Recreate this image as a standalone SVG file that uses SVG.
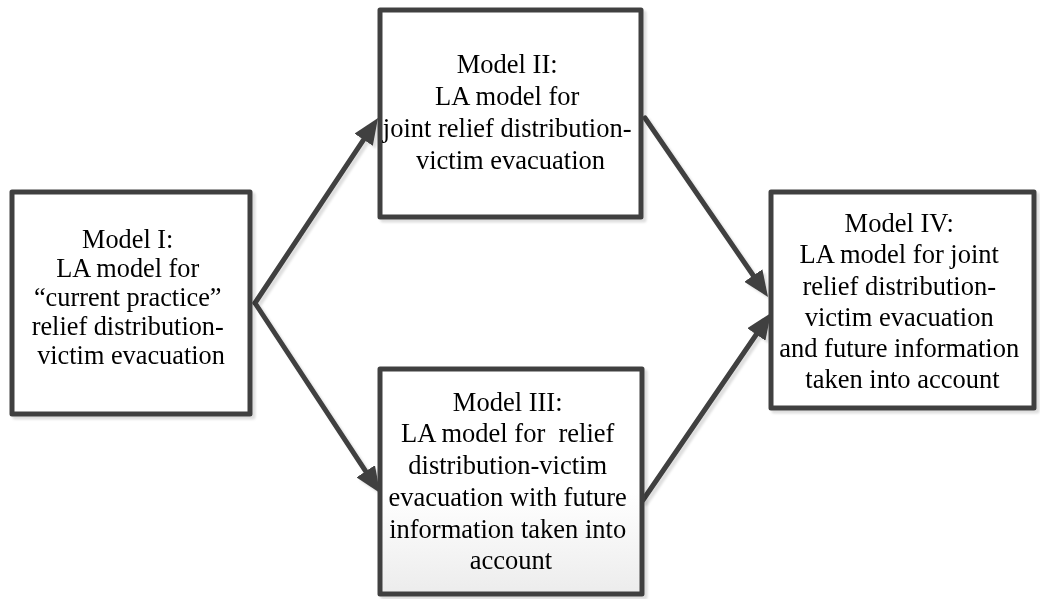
<svg xmlns="http://www.w3.org/2000/svg" width="1040" height="599" viewBox="0 0 1040 599">
<defs>
  <style>
    .box{fill:#ffffff;stroke:#404040;stroke-width:5;stroke-linejoin:round}
    .lbl{font-family:"Liberation Serif","Times New Roman",serif;fill:#000;text-anchor:middle}
    .conn line{stroke:#404040;stroke-width:5;stroke-linecap:round}
  </style>
  <linearGradient id="g3" x1="0" y1="0" x2="0" y2="1">
    <stop offset="0.55" stop-color="#ffffff"/>
    <stop offset="1" stop-color="#ececec"/>
  </linearGradient>
  <filter id="sh" x="-10%" y="-10%" width="130%" height="130%">
    <feDropShadow dx="3" dy="3" stdDeviation="0.8" flood-color="#000" flood-opacity="0.13"/>
  </filter>
  <marker id="ah" viewBox="0 0 26 22" markerWidth="26" markerHeight="22" refX="3" refY="11" orient="auto" markerUnits="userSpaceOnUse">
    <path d="M0,0 L26,11 L0,22 z" fill="#404040"/>
  </marker>
</defs>
<rect width="1040" height="599" fill="#ffffff"/>
<g id="connectors" class="conn" filter="url(#sh)">
  <line x1="255" y1="303" x2="365.3" y2="137.2" marker-end="url(#ah)"/>
  <line x1="255" y1="303" x2="367.4" y2="473.8" marker-end="url(#ah)"/>
  <line x1="645" y1="118" x2="755.0" y2="278.0" marker-end="url(#ah)"/>
  <line x1="643" y1="500" x2="758.0" y2="332.0" marker-end="url(#ah)"/>
</g>
<g id="model1" filter="url(#sh)">
  <rect class="box" x="12" y="192" width="238" height="222"/>
  <text class="lbl" font-size="26.3">
    <tspan x="131" y="248">Model I:</tspan>
    <tspan x="131" y="277">LA model for</tspan>
    <tspan x="131" y="306">“current practice”</tspan>
    <tspan x="131" y="335">relief distribution-</tspan>
    <tspan x="131" y="364">victim evacuation</tspan>
  </text>
</g>
<g id="model2" filter="url(#sh)">
  <rect class="box" x="380" y="10" width="261" height="207"/>
  <text class="lbl" font-size="26.5">
    <tspan x="510.5" y="73">Model II:</tspan>
    <tspan x="510.5" y="105">LA model for</tspan>
    <tspan x="510.5" y="137">joint relief distribution-</tspan>
    <tspan x="510.5" y="169">victim evacuation</tspan>
  </text>
</g>
<g id="model3" filter="url(#sh)">
  <rect class="box" x="380" y="369" width="262" height="225" style="fill:url(#g3)"/>
  <text class="lbl" font-size="26.5">
    <tspan x="511" y="411">Model III:</tspan>
    <tspan x="511" y="442" style="white-space:pre">LA model for  relief</tspan>
    <tspan x="511" y="474">distribution-victim</tspan>
    <tspan x="511" y="506">evacuation with future</tspan>
    <tspan x="511" y="538">information taken into</tspan>
    <tspan x="511" y="569">account</tspan>
  </text>
</g>
<g id="model4" filter="url(#sh)">
  <rect class="box" x="771" y="192" width="263" height="216"/>
  <text class="lbl" font-size="26.5">
    <tspan x="902.5" y="232">Model IV:</tspan>
    <tspan x="902.5" y="263">LA model for joint</tspan>
    <tspan x="902.5" y="295">relief distribution-</tspan>
    <tspan x="902.5" y="326">victim evacuation</tspan>
    <tspan x="902.5" y="357">and future information</tspan>
    <tspan x="902.5" y="388">taken into account</tspan>
  </text>
</g>
</svg>
